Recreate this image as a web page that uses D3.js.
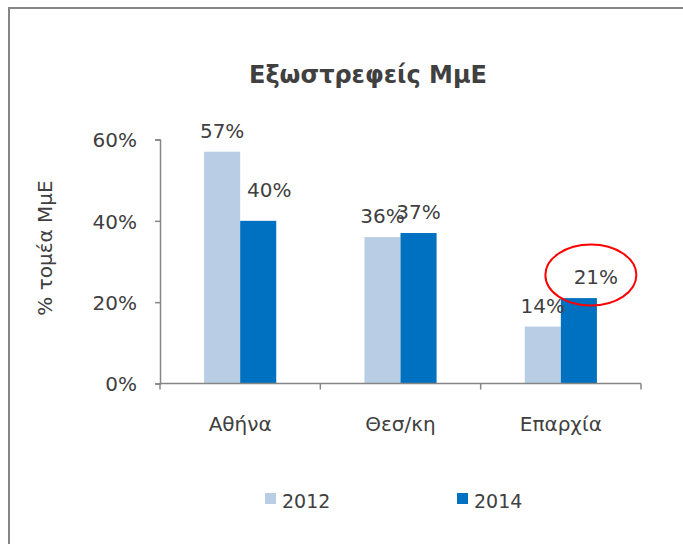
<!DOCTYPE html>
<html>
<head>
<meta charset="utf-8">
<script src="https://cdn.jsdelivr.net/npm/d3@7"></script>
<style>
  body { margin: 0; background: #fff; }
  svg text { font-family: "DejaVu Sans", Verdana, sans-serif; fill: #404040; }
</style>
</head>
<body>
<div id="app"></div>
<script>
// chart data
const categories = ["Αθήνα", "Θεσ/κη", "Επαρχία"];
const years = ["2012", "2014"];
const values2012 = [0.57, 0.36, 0.14];
const values2014 = [0.40, 0.37, 0.21];
const yTicks = [0, 0.2, 0.4, 0.6];

const colors = { "2012": "#b9cde5", "2014": "#0070c0" };

// label nudges (dx, dy) for labels that were moved by hand in the original
const nudge = { "Αθήνα-2014": [11, -10], "Επαρχία-2014": [17, 0] };

let width = 683,
    height = 544;

const svg = d3.select("#app").append("svg")
    .attr("width", width)
    .attr("height", height);

// chart border (only top and left edges are inside the picture)
svg.append("path")
    .attr("d", "M9,544 V8 H683")
    .attr("fill", "none")
    .attr("stroke", "#868686")
    .attr("stroke-width", 2);

const x0 = d3.scaleBand()
    .domain(categories)
    .range([160, 641])
    .paddingInner(0.55)
    .paddingOuter(0.275);

const x1 = d3.scaleBand()
    .domain(years)
    .range([0, x0.bandwidth()]);

const y = d3.scaleLinear()
    .domain([0, 0.6])
    .range([383.5, 139.5]);

const rows = categories.map((c, i) => ({
    cat: c,
    vals: [
        { year: "2012", v: values2012[i] },
        { year: "2014", v: values2014[i] }
    ]
}));

// bars
const groups = svg.selectAll("g.cat")
    .data(rows)
    .join("g")
    .attr("class", "cat")
    .attr("transform", d => `translate(${x0(d.cat)},0)`);

groups.selectAll("rect")
    .data(d => d.vals)
    .join("rect")
    .attr("x", d => x1(d.year))
    .attr("y", d => y(d.v))
    .attr("width", x1.bandwidth())
    .attr("height", d => y(0) - y(d.v))
    .attr("fill", d => colors[d.year]);

// value labels
groups.each(function(row) {
    d3.select(this).selectAll("text.val")
        .data(row.vals)
        .join("text")
        .attr("class", "val")
        .attr("text-anchor", "middle")
        .attr("font-size", 20)
        .attr("x", d => x1(d.year) + x1.bandwidth() / 2 + (nudge[row.cat + "-" + d.year] || [0, 0])[0])
        .attr("y", d => y(d.v) - 14 + (nudge[row.cat + "-" + d.year] || [0, 0])[1])
        .text(d => d3.format(".0%")(d.v));
});

// y axis
const yAxis = svg.append("g")
    .attr("transform", "translate(160,0)")
    .call(d3.axisLeft(y).tickValues(yTicks).tickFormat(d3.format(".0%")).tickSize(5).tickPadding(18));

yAxis.select(".domain").attr("stroke", "#868686").attr("stroke-width", 1.5);
yAxis.selectAll(".tick line").attr("stroke", "#868686").attr("stroke-width", 1.5);
yAxis.selectAll(".tick text")
    .attr("font-size", 20)
    .attr("font-family", "DejaVu Sans")
    .attr("fill", "#404040")
    .attr("dy", "0.36em");

// x axis
const xBottom = y(0);
const xAxis = svg.append("g").attr("transform", `translate(0,${xBottom})`);
xAxis.append("line")
    .attr("x1", x0.range()[0]).attr("x2", x0.range()[1])
    .attr("stroke", "#868686").attr("stroke-width", 1.5);

const bounds = categories.map(c => x0(c) - x0.step() * x0.paddingOuter()).concat([x0.range()[1]]);
xAxis.selectAll("line.tk")
    .data(bounds)
    .join("line")
    .attr("class", "tk")
    .attr("x1", d => d).attr("x2", d => d)
    .attr("y1", 0).attr("y2", 6)
    .attr("stroke", "#868686").attr("stroke-width", 1.5);

xAxis.selectAll("text")
    .data(categories)
    .join("text")
    .attr("text-anchor", "middle")
    .attr("font-size", 20)
    .attr("x", d => x0(d) + x0.bandwidth() / 2)
    .attr("y", 47)
    .text(d => d);

// title
svg.append("text")
    .attr("x", 368)
    .attr("y", 83)
    .attr("text-anchor", "middle")
    .attr("font-size", 24)
    .attr("font-weight", "bold")
    .text("Εξωστρεφείς ΜμΕ");

// y axis title
svg.append("text")
    .attr("transform", "translate(52,248) rotate(-90)")
    .attr("text-anchor", "middle")
    .attr("font-size", 20)
    .text("% τομέα ΜμΕ");

// highlight ellipse round the 2014 Επαρχία label
svg.append("ellipse")
    .attr("cx", x0("Επαρχία") + x1("2014") + x1.bandwidth() / 2 + 12)
    .attr("cy", y(values2014[2]) - 23)
    .attr("rx", 45.5)
    .attr("ry", 30.5)
    .attr("fill", "none")
    .attr("stroke", "#ff0000")
    .attr("stroke-width", 2);

// legend
const legend = svg.append("g")
    .selectAll("g")
    .data(years)
    .join("g")
    .attr("transform", (d, i) => `translate(${265 + i * 192},493)`);

legend.append("rect")
    .attr("width", 11)
    .attr("height", 11)
    .attr("fill", d => colors[d]);

legend.append("text")
    .attr("x", 17)
    .attr("y", 14.5)
    .attr("font-size", 19)
    .text(d => d);
</script>
</body>
</html>
